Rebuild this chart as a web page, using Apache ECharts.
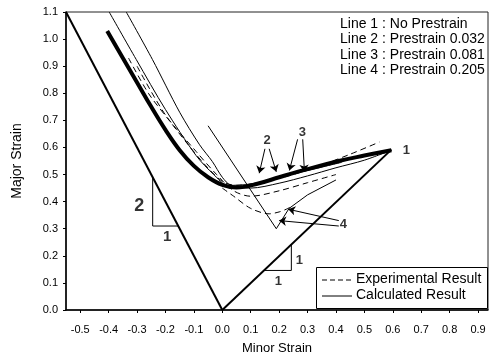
<!DOCTYPE html>
<html lang="en">
<head>
<meta charset="UTF-8">
<title>FLD</title>
<script src="https://cdn.jsdelivr.net/npm/echarts@6/dist/echarts.min.js"></script>
<style>html,body{margin:0;padding:0;background:#fff}</style>
</head>
<body>
<div id="main" style="width:496px;height:360px;"></div>
<script>
// axis ticks
var xTicks = [-0.5, -0.4, -0.3, -0.2, -0.1, 0.0, 0.1, 0.2, 0.3, 0.4, 0.5, 0.6, 0.7, 0.8, 0.9];

// limit lines (slope -2 and slope 1)
var leftLimit = [[-0.55, 1.1], [0, 0]];
var rightLimit = [[0, 0], [0.595, 0.592]];
// slope triangles
var tri21 = [[-0.245, 0.49], [-0.245, 0.31], [-0.155, 0.31]];
var tri11 = [[0.146, 0.146], [0.243, 0.146], [0.243, 0.243]];

// calculated results (solid)
var calc1 = [[-0.405, 1.03], [-0.35, 0.93], [-0.3, 0.84], [-0.25, 0.75], [-0.2, 0.665], [-0.15, 0.59], [-0.1, 0.532], [-0.05, 0.49], [0.0, 0.462], [0.05, 0.452], [0.13, 0.468], [0.2, 0.49], [0.3, 0.52], [0.41, 0.55], [0.5, 0.57], [0.595, 0.59]];
var calc2 = [[-0.398, 1.1], [-0.303, 0.925], [-0.2, 0.74], [-0.092, 0.57], [-0.03, 0.5], [0.02, 0.46], [0.1, 0.465], [0.2, 0.49], [0.3, 0.515], [0.42, 0.545]];
var calc3 = [[-0.338, 1.1], [-0.246, 0.925], [-0.15, 0.73], [-0.08, 0.61], [-0.035, 0.548], [0.0, 0.49], [0.03, 0.46], [0.1, 0.45], [0.2, 0.468], [0.3, 0.495], [0.4, 0.525], [0.5, 0.553], [0.595, 0.59]];
var calc4 = [[-0.05, 0.68], [0.19, 0.30], [0.235, 0.375], [0.3, 0.425], [0.4, 0.48]];

// experimental results (dashed)
var expA = [[-0.33, 0.93], [-0.26, 0.8], [-0.187, 0.7], [-0.12, 0.61], [-0.06, 0.535], [0.0, 0.475], [0.05, 0.46], [0.15, 0.475], [0.25, 0.5], [0.35, 0.535], [0.45, 0.575], [0.553, 0.62]];
var expB = [[-0.3, 0.9], [-0.2, 0.72], [-0.092, 0.585], [-0.02, 0.5], [0.04, 0.44], [0.1, 0.42], [0.2, 0.44], [0.3, 0.47], [0.4, 0.5]];
var expC = [[0.0, 0.45], [0.04, 0.42], [0.1, 0.375], [0.165, 0.355], [0.2, 0.362], [0.225, 0.372], [0.25, 0.385]];

// arrows and their labels
var arrows = [
    [[0.15, 0.595], [0.13, 0.505]], [[0.165, 0.595], [0.19, 0.51]],
    [[0.265, 0.63], [0.236, 0.515]], [[0.283, 0.63], [0.289, 0.51]],
    [[0.41, 0.33], [0.232, 0.372]], [[0.41, 0.31], [0.2, 0.33]]
];
var curveLabels = [[0.158, 0.625, '2'], [0.282, 0.655, '3'], [0.648, 0.59, '1'], [0.426, 0.315, '4']];
var slopeLabels = [[-0.292, 0.385, '2'], [-0.194, 0.27, '1']];
var slope11Labels = [[0.271, 0.183, '1'], [0.197, 0.106, '1']];

var infoLines = ['Line 1 : No Prestrain', 'Line 2 : Prestrain 0.032', 'Line 3 : Prestrain 0.081', 'Line 4 : Prestrain 0.205'];

var font = 'Liberation Sans, Arial, sans-serif';
var chart = echarts.init(document.getElementById('main'));

function solid(data, w, smooth) {
    return {type: 'line', data: data, symbol: 'none', smooth: smooth || 0, silent: true,
        lineStyle: {color: '#000', width: w}};
}
function dashed(data) {
    return {type: 'line', data: data, symbol: 'none', smooth: 0.3, silent: true,
        lineStyle: {color: '#000', width: 1, type: [6, 4]}};
}
function textPts(data, size) {
    return {type: 'scatter', data: data, symbolSize: 1, itemStyle: {color: 'rgba(0,0,0,0)'}, silent: true,
        label: {show: true, position: 'inside', formatter: function (p) { return p.data[2]; },
            color: '#000', fontSize: size, fontFamily: font, fontWeight: 'bold'}};
}

var graphics = [];
infoLines.forEach(function (t, i) {
    graphics.push({type: 'text', left: 340, top: 17 + i * 15.5,
        style: {text: t, fontSize: 14, fontFamily: font, fill: '#000'}});
});
graphics.push({type: 'rect', shape: {x: 316.5, y: 267.5, width: 171, height: 41}, style: {fill: '#fff', stroke: '#000', lineWidth: 1}});
graphics.push({type: 'line', shape: {x1: 322, y1: 280, x2: 352, y2: 280}, style: {stroke: '#000', lineWidth: 1, lineDash: [5, 3]}});
graphics.push({type: 'line', shape: {x1: 322, y1: 296, x2: 352, y2: 296}, style: {stroke: '#000', lineWidth: 1}});
graphics.push({type: 'text', left: 356, top: 272, style: {text: 'Experimental Result', fontSize: 14, fontFamily: font, fill: '#000'}});
graphics.push({type: 'text', left: 356, top: 288, style: {text: 'Calculated Result', fontSize: 14, fontFamily: font, fill: '#000'}});

chart.setOption({
    animation: false,
    grid: {left: 66, right: 8, top: 12, bottom: 47, show: true, borderColor: '#222', borderWidth: 1},
    xAxis: {
        type: 'value', min: -0.55, max: 0.935,
        name: 'Minor Strain', nameLocation: 'middle', nameGap: 32,
        nameTextStyle: {fontSize: 13, fontFamily: font, color: '#000'},
        axisLine: {onZero: false, lineStyle: {color: '#000', width: 1.5}},
        axisTick: {inside: false, length: 3, customValues: xTicks, lineStyle: {color: '#000'}},
        axisLabel: {customValues: xTicks, fontSize: 11, fontFamily: font, color: '#000', margin: 14,
            formatter: function (v) { return v.toFixed(1); }},
        splitLine: {show: false}
    },
    yAxis: {
        type: 'value', min: 0, max: 1.1, interval: 0.1,
        name: 'Major Strain', nameLocation: 'middle', nameGap: 42,
        nameTextStyle: {fontSize: 14, fontFamily: font, color: '#000'},
        axisLine: {onZero: false, lineStyle: {color: '#000', width: 1.5}},
        axisTick: {length: 3, lineStyle: {color: '#000'}},
        axisLabel: {fontSize: 11, fontFamily: font, color: '#000', margin: 8,
            formatter: function (v) { return v.toFixed(1); }},
        splitLine: {show: false}
    },
    graphic: graphics,
    series: [
        solid(leftLimit, 2),
        solid(rightLimit, 2),
        solid(tri21, 1),
        solid(tri11, 1),
        solid(calc1, 4, 0.4),
        solid(calc2, 1, 0.3),
        solid(calc3, 1, 0.3),
        solid(calc4, 1, 0),
        dashed(expA),
        dashed(expB),
        dashed(expC),
        {type: 'lines', coordinateSystem: 'cartesian2d', silent: true,
            symbol: ['none', 'arrow'], symbolSize: 7,
            lineStyle: {color: '#000', width: 1, opacity: 1},
            data: arrows.map(function (a) { return {coords: a}; })},
        textPts(curveLabels, 13),
        textPts(slopeLabels.slice(0, 1), 18),
        textPts(slopeLabels.slice(1), 15),
        textPts(slope11Labels, 13)
    ]
});
</script>
</body>
</html>
